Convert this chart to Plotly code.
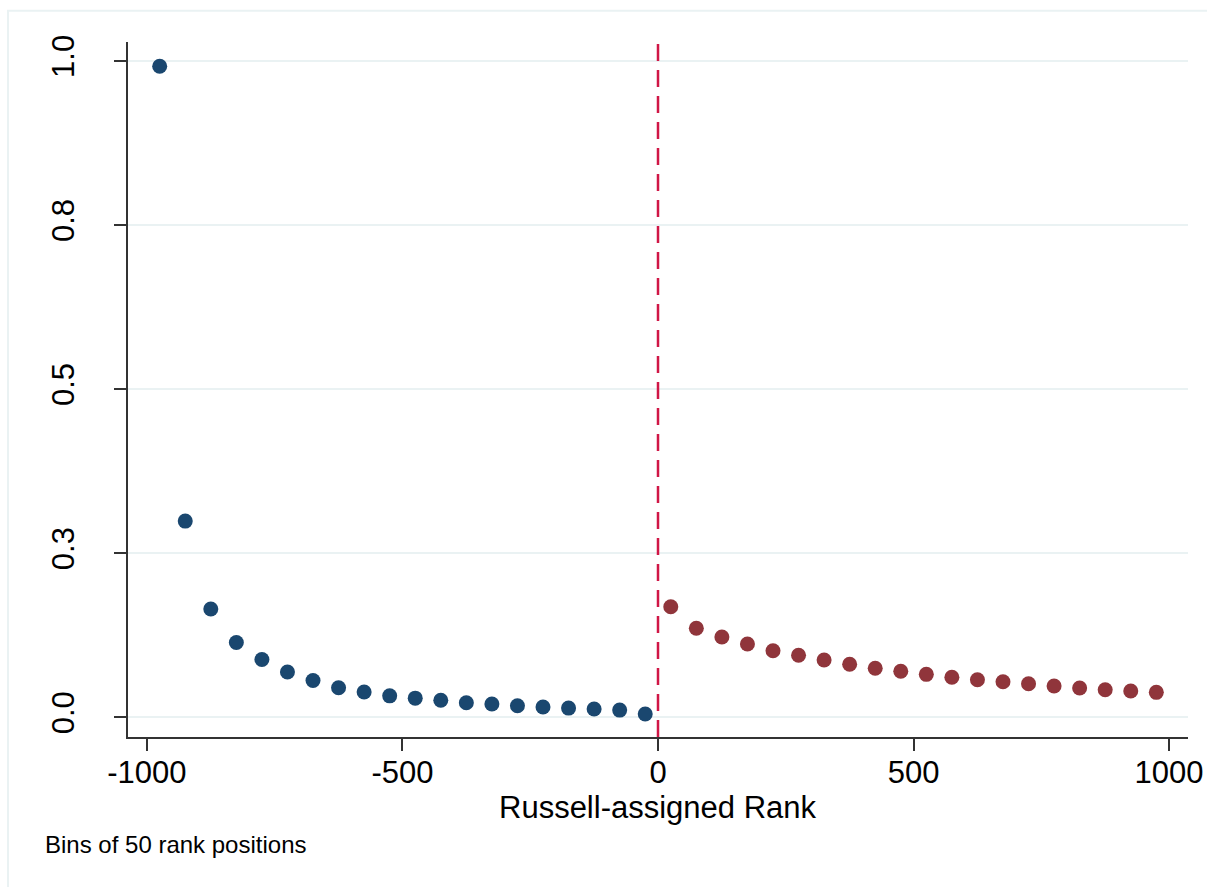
import plotly.graph_objects as go

# ---- data ----
rank_below = [-975, -925, -875, -825, -775, -725, -675, -625, -575, -525,
              -475, -425, -375, -325, -275, -225, -175, -125, -75, -25]
share_below = [0.992, 0.299, 0.165, 0.114, 0.088, 0.069, 0.056, 0.045, 0.0386, 0.0327,
               0.0292, 0.0259, 0.0222, 0.0203, 0.0177, 0.0157, 0.0140, 0.0126, 0.0110, 0.0050]
rank_above = [25, 75, 125, 175, 225, 275, 325, 375, 425, 475,
              525, 575, 625, 675, 725, 775, 825, 875, 925, 975]
share_above = [0.1685, 0.1356, 0.1223, 0.1117, 0.1015, 0.0945, 0.0873, 0.0808, 0.0747, 0.0701,
               0.0655, 0.0610, 0.0573, 0.0543, 0.0512, 0.0477, 0.0446, 0.0420, 0.0400, 0.0380]
x_ticks = [-1000, -500, 0, 500, 1000]
x_tick_labels = ["-1000", "-500", "0", "500", "1000"]
y_ticks = [0, 0.25, 0.5, 0.75, 1.0]
y_tick_labels = ["0.0", "0.3", "0.5", "0.8", "1.0"]
cutoff = 0
x_title = "Russell-assigned Rank"
note = "Bins of 50 rank positions"

FONT = "Liberation Sans, Arial, Helvetica, sans-serif"
NAVY = "#1a476f"
MAROON = "#90353b"
GRID = "#eaf2f3"
AXIS = "#333333"
DASH = "#d01646"

fig = go.Figure()
fig.add_trace(go.Scatter(x=rank_below, y=share_below, mode="markers",
                         marker=dict(size=15, color=NAVY, line=dict(width=0)),
                         showlegend=False, hoverinfo="x+y"))
fig.add_trace(go.Scatter(x=rank_above, y=share_above, mode="markers",
                         marker=dict(size=15, color=MAROON, line=dict(width=0)),
                         showlegend=False, hoverinfo="x+y"))

# cutoff line
fig.add_shape(type="line", xref="x", yref="paper", x0=cutoff, x1=cutoff, y0=0, y1=1,
              line=dict(color=DASH, width=2.5, dash="17px,9px"))

# outer light frame (graph region border)
fig.add_shape(type="rect", xref="paper", yref="paper",
              x0=-0.1132, x1=1.03, y0=-0.235, y1=1.0451,
              line=dict(color=GRID, width=2), fillcolor="rgba(0,0,0,0)", layer="below")

# x-axis title and note
fig.add_annotation(text=x_title, xref="paper", yref="paper", x=0.5, y=-0.1015,
                   xanchor="center", yanchor="middle", showarrow=False,
                   font=dict(family=FONT, size=31, color="black"))
fig.add_annotation(text=note, xref="paper", yref="paper", x=-0.0803, y=-0.1540,
                   xanchor="left", yanchor="middle", showarrow=False,
                   font=dict(family=FONT, size=24, color="black"))

fig.update_layout(
    width=1207, height=887,
    margin=dict(l=128, r=19, t=42, b=150, pad=0, autoexpand=False),
    paper_bgcolor="white", plot_bgcolor="white",
    font=dict(family=FONT, color="black"),
    xaxis=dict(range=[-1037, 1037], tickmode="array", tickvals=x_ticks,
               ticktext=x_tick_labels, automargin=False, ticklabelstandoff=-5,
               ticks="outside", ticklen=12, tickwidth=1.5, tickcolor=AXIS,
               showline=True, linecolor=AXIS, linewidth=1.5,
               showgrid=False, zeroline=False,
               tickfont=dict(family=FONT, size=31, color="black")),
    yaxis=dict(range=[-0.030, 1.029], tickmode="array", tickvals=y_ticks,
               ticktext=y_tick_labels, tickangle=-90, ticklabelstandoff=28,
               automargin=False,
               ticks="outside", ticklen=12, tickwidth=1.5, tickcolor=AXIS,
               showline=True, linecolor=AXIS, linewidth=1.5,
               showgrid=True, gridcolor=GRID, gridwidth=2, zeroline=False,
               tickfont=dict(family=FONT, size=31, color="black")),
)

fig.write_html("out.html",
               post_script="document.body.style.margin='0';document.body.style.overflow='hidden';")
